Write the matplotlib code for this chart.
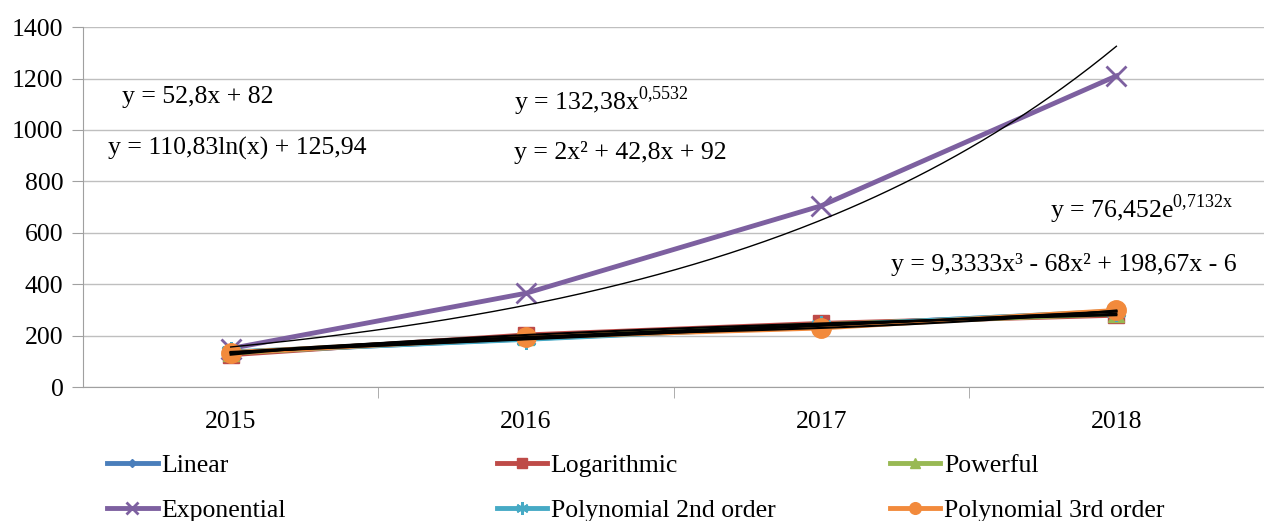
import numpy as np
import matplotlib.pyplot as plt

plt.rcParams['font.family'] = ['Liberation Serif', 'DejaVu Serif']
plt.rcParams['mathtext.fontset'] = 'custom'
plt.rcParams['mathtext.rm'] = 'Liberation Serif'

years = ['2015', '2016', '2017', '2018']

# значения рядов
linear = [134.8, 187.6, 240.4, 293.2]
logarithmic = [125.9, 202.8, 247.7, 279.6]
powerful = [132.4, 194.2, 242.6, 285.0]
exponential = [150, 365, 705, 1210]
poly2 = [136.8, 185.6, 238.4, 295.2]
poly3 = [134, 194, 230, 298]

# коэффициенты линий тренда (из подписей)
lin_k = [52.8, 82]
log_k = [110.83, 125.94]
pow_k = [132.38, 0.5532]
exp_k = [76.452, 0.7132]
p2_k = [2, 42.8, 92]
p3_k = [9.3333, -68, 198.67, -6]

x = np.arange(1, len(years) + 1)
xs = np.linspace(1, 4, 200)

fig, ax = plt.subplots(figsize=(12.64, 5.21), dpi=100)
fig.subplots_adjust(left=0.0657, right=1.0, top=0.948, bottom=0.257)

series = [
    ('Linear', linear, '#4a7ebb', 'D', 7),
    ('Logarithmic', logarithmic, '#be4b48', 's', 12),
    ('Powerful', powerful, '#98b954', '^', 12),
    ('Exponential', exponential, '#7d60a0', 'x', 15),
    ('Polynomial 2nd order', poly2, '#46aac5', (6, 2, 0), 15),
    ('Polynomial 3rd order', poly3, '#f28a3c', 'o', 14),
]
handles = []
for name, vals, col, mk, ms in series:
    mew = 2 if mk in ('x', (6, 2, 0)) else 1
    h, = ax.plot(x, vals, color=col, lw=3.5, marker=mk, markersize=ms,
                 markeredgewidth=mew, label=name, zorder=3)
    handles.append(h)

# линии тренда
ax.plot(xs, lin_k[0] * xs + lin_k[1], color='black', lw=1.5, zorder=4)
ax.plot(xs, log_k[0] * np.log(xs) + log_k[1], color='black', lw=1.5, zorder=4)
ax.plot(xs, pow_k[0] * xs ** pow_k[1], color='black', lw=1.5, zorder=4)
ax.plot(xs, np.polyval(p2_k, xs), color='black', lw=1.5, zorder=4)
ax.plot(xs, np.polyval(p3_k, xs), color='black', lw=1.5, zorder=4)
ax.plot(xs, exp_k[0] * np.exp(exp_k[1] * xs), color='black', lw=1, zorder=4)

fs = 18.5
ax.set_xlim(0.5, 4.5)
ax.set_ylim(0, 1400)
ax.set_yticks(range(0, 1401, 200))
ax.set_xticks(x)
ax.set_xticklabels(years)
ax.set_xticks([1.5, 2.5, 3.5], minor=True)
ax.tick_params(axis='x', which='major', length=0, pad=17, labelsize=fs)
ax.tick_params(axis='x', which='minor', length=8, color='#a0a0a0')
ax.tick_params(axis='y', length=8, color='#a0a0a0', labelsize=fs, pad=6)
ax.grid(axis='y', color='#bfbfbf', lw=1)
ax.set_axisbelow(True)
for s in ['top', 'right']:
    ax.spines[s].set_visible(False)
ax.spines['left'].set_color('#a0a0a0')
ax.spines['bottom'].set_color('#a0a0a0')

ax.text(0.632, 1128, 'y = 52,8x + 82', fontsize=fs, va='center')
ax.text(0.584, 929, 'y = 110,83ln(x) + 125,94', fontsize=fs, va='center')
ax.text(1.959, 1110, r'y = 132,38x$^{\mathrm{0{,}5532}}$', fontsize=fs, va='center')
ax.text(1.959, 914, 'y = 2x² + 42,8x + 92', fontsize=fs, va='center')
ax.text(3.774, 690, r'y = 76,452e$^{\mathrm{0{,}7132x}}$', fontsize=fs, va='center')
ax.text(3.236, 478, 'y = 9,3333x³ - 68x² + 198,67x - 6', fontsize=fs, va='center')

# легенда в три колонки
cols = [(handles[0], handles[3]), (handles[1], handles[4]), (handles[2], handles[5])]
xpos = [0.085, 0.393, 0.704]
for (h1, h2), xp in zip(cols, xpos):
    fig.legend([h1, h2], [h1.get_label(), h2.get_label()], loc='upper left',
               bbox_to_anchor=(xp, 0.128), frameon=False, fontsize=fs,
               handlelength=1.95, handletextpad=0.15, labelspacing=0.85,
               borderaxespad=0, borderpad=0, markerscale=0.6)

fig.savefig('out.png', dpi=100)
